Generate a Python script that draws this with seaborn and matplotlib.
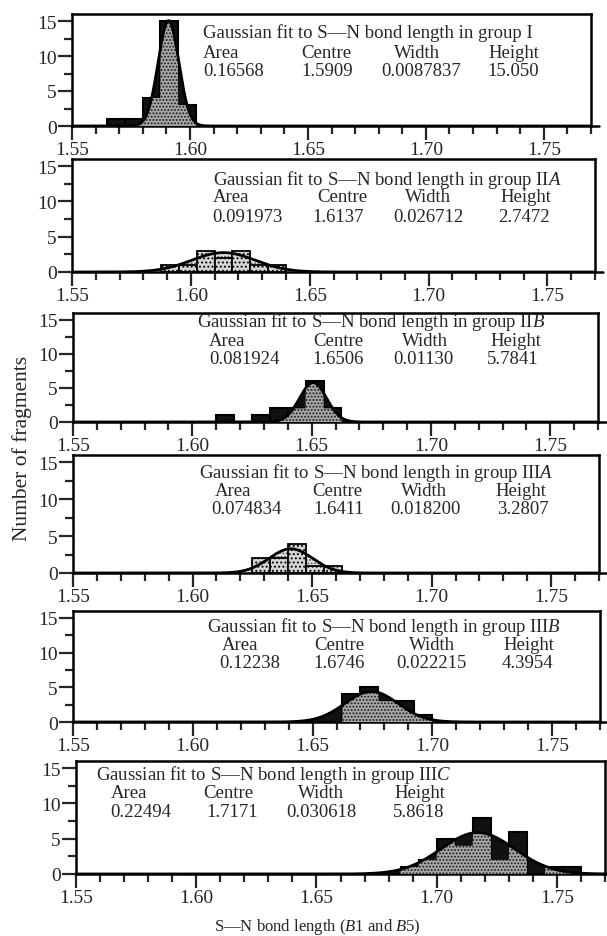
import matplotlib.pyplot as plt
import seaborn as sns
import numpy as np
import pandas as pd
from matplotlib.ticker import MultipleLocator, FormatStrFormatter

sns.set_style("ticks")
plt.rcParams['font.family'] = ['Liberation Serif', 'DejaVu Serif']
plt.rcParams['mathtext.fontset'] = 'custom'
plt.rcParams['mathtext.rm'] = 'Liberation Serif'
plt.rcParams['mathtext.it'] = 'Liberation Serif:italic'
plt.rcParams['hatch.linewidth'] = 0.9

# Histogram data (bin width 0.0075)
bin_width = 0.0075
groups = ['I', r'II$\mathit{A}$', r'II$\mathit{B}$', r'III$\mathit{A}$', r'III$\mathit{B}$', r'III$\mathit{C}$']
bin_start = [1.5650, 1.5875, 1.6100, 1.6250, 1.6625, 1.6850]
counts = [
    [1, 1, 4, 15, 3],
    [1, 1, 3, 2, 3, 1, 1],
    [1, 0, 1, 2, 2, 6, 2],
    [2, 2, 4, 1, 1],
    [4, 5, 3, 3, 1],
    [1, 2, 5, 4, 8, 2, 6, 0, 1, 1],
]

# Gaussian fit parameters (as printed)
area_txt = ['0.16568', '0.091973', '0.081924', '0.074834', '0.12238', '0.22494']
centre_txt = ['1.5909', '1.6137', '1.6506', '1.6411', '1.6746', '1.7171']
width_txt = ['0.0087837', '0.026712', '0.01130', '0.018200', '0.022215', '0.030618']
height_txt = ['15.050', '2.7472', '5.7841', '3.2807', '4.3954', '5.8618']

dark = [True, False, True, False, True, True]

# layout in pixels: left, top, right, bottom of each panel
W, H = 607, 937
boxes = [(72, 15, 591, 127), (72, 160, 595, 273), (73, 314, 598, 423),
         (73, 456, 599, 574), (73, 612, 600, 723), (76, 762, 605, 875)]
# text: title (x, y), label xs, value xs, label y, value y
txt_layout = [
    ((203, 33), [203, 301, 394, 488], [203, 301, 381, 487], 53, 72),
    ((213, 180), [213, 317, 405, 500], [212, 312, 393, 498], 198, 217),
    ((197, 322), [209, 313, 402, 490], [209, 312, 393, 487], 341, 359),
    ((199, 473), [215, 312, 401, 495], [211, 313, 390, 497], 492, 510),
    ((207, 627), [222, 314, 409, 503], [219, 313, 396, 502], 646, 664),
    ((96, 775), [111, 203, 298, 394], [110, 206, 286, 393], 794, 813),
]

fig = plt.figure(figsize=(W / 100, H / 100), dpi=100)
xs = np.linspace(1.55, 1.775, 2400)

for i in range(6):
    l, t, r, b = boxes[i]
    ax = fig.add_axes([l / W, 1 - b / H, (r - l) / W, (b - t) / H])
    c = counts[i]
    edges = bin_start[i] + bin_width * np.arange(len(c) + 1)
    df = pd.DataFrame({'length': edges[:-1] + bin_width / 2, 'n': c})
    cen = float(centre_txt[i])
    wid = float(width_txt[i])
    hgt = float(height_txt[i])
    ys = hgt * np.exp(-2 * (xs - cen) ** 2 / wid ** 2)

    if dark[i]:
        # black bars and curve area, stippled where the two overlap
        ax.fill_between(xs, 0, ys, facecolor='#111111', linewidth=0, zorder=1)
        sns.histplot(data=df, x='length', weights='n', bins=list(edges), ax=ax,
                     color='#111111', edgecolor='black', linewidth=1.5, alpha=1, zorder=2)
        idx = np.searchsorted(edges, xs, side='right') - 1
        inside = (idx >= 0) & (idx < len(c))
        bar_h = np.where(inside, np.array(c)[np.clip(idx, 0, len(c) - 1)], 0)
        ax.fill_between(xs, 0, np.minimum(ys, bar_h), facecolor='#a8a8a8',
                        edgecolor='#1a1a1a', hatch='.....', linewidth=0, zorder=3)
    else:
        ax.fill_between(xs, 0, ys, facecolor='#e6e6e6', edgecolor='#505050',
                        hatch='.....', linewidth=0, zorder=1)
        sns.histplot(data=df, x='length', weights='n', bins=list(edges), ax=ax,
                     color='#d6d6d6', edgecolor='black', linewidth=1.3, alpha=1,
                     zorder=2, hatch='....')
    sns.lineplot(x=xs, y=ys, ax=ax, color='black', linewidth=2, zorder=4)

    ax.set_xlim(1.55, 1.77)
    ax.set_ylim(0, 16)
    ax.xaxis.set_major_locator(MultipleLocator(0.05))
    ax.xaxis.set_minor_locator(MultipleLocator(0.01))
    ax.xaxis.set_major_formatter(FormatStrFormatter('%.2f'))
    ax.yaxis.set_major_locator(MultipleLocator(5))
    ax.yaxis.set_minor_locator(MultipleLocator(2.5))
    ax.tick_params(which='major', direction='out', length=10, width=1.6, labelsize=14, pad=1)
    ax.tick_params(which='minor', direction='out', length=6, width=1.6)
    ax.tick_params(top=False, right=False)
    ax.set_xlabel('')
    ax.set_ylabel('')
    for s in ax.spines.values():
        s.set_linewidth(1.8)
        s.set_color('black')
    ax.plot([1, 1.015], [0, 0], transform=ax.transAxes, color='black', lw=1.8, clip_on=False)

    (tx, ty), lab_x, val_x, lab_y, val_y = txt_layout[i]
    fs = 13.5
    fig.text(tx / W, 1 - ty / H, 'Gaussian fit to S\u2014N bond length in group ' + groups[i],
             fontsize=fs, va='center', ha='left')
    for name, x in zip(['Area', 'Centre', 'Width', 'Height'], lab_x):
        fig.text(x / W, 1 - lab_y / H, name, fontsize=fs, va='center', ha='left')
    vals = [area_txt[i], centre_txt[i], width_txt[i], height_txt[i]]
    for v, x in zip(vals, val_x):
        fig.text(x / W, 1 - val_y / H, v, fontsize=fs, va='center', ha='left')

fig.text(22 / W, 1 - 448 / H, 'Number of fragments', rotation=90, fontsize=15.5,
         va='center', ha='center')
fig.text(317 / W, 1 - 927 / H, r'S—N bond length ($\mathit{B}$1 and $\mathit{B}$5)',
         fontsize=12, va='center', ha='center')

fig.savefig('out.png', dpi=100)
